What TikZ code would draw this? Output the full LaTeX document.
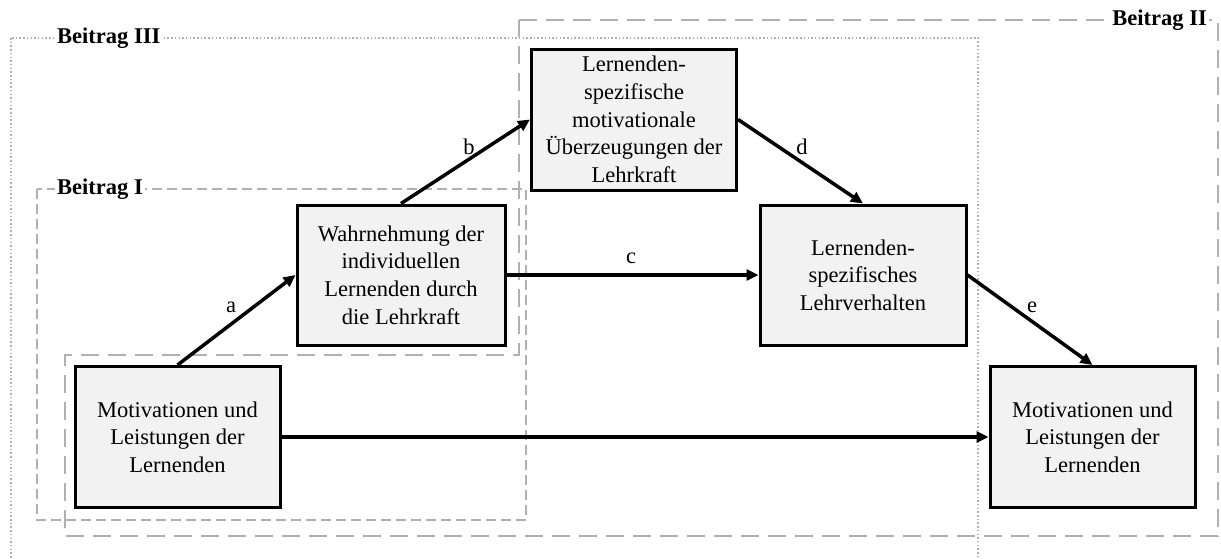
\documentclass[tikz,border=0pt]{standalone}
\usepackage{fontspec}
\setmainfont{Liberation Serif}
\usetikzlibrary{arrows.meta}
\definecolor{grp}{RGB}{176,176,176}
\definecolor{boxfill}{RGB}{242,242,242}
\begin{document}
\begin{tikzpicture}[x=1pt,y=-1pt,
  box/.style={draw=black, line width=3pt, fill=boxfill, align=center,
    font=\fontsize{22.5}{27.7}\selectfont, inner sep=0pt},
  arr/.style={draw=black, line width=3.5pt, -{Triangle[length=12pt,width=11pt]}},
  lbl/.style={font=\fontsize{22.5}{27.7}\selectfont, inner sep=0pt},
  grptitle/.style={font=\bfseries\fontsize{22.5}{27.7}\selectfont, fill=white, inner sep=2pt},
  dotgrp/.style={draw=grp, line width=1.5pt, dash pattern=on 1.5pt off 2.2pt},
  longdash/.style={draw=grp, line width=2.2pt, dash pattern=on 18pt off 9pt},
  shortdash/.style={draw=grp, line width=2pt, dash pattern=on 10pt off 5pt}
]
\useasboundingbox (0,0) rectangle (1221,558);
\clip (0,0) rectangle (1221,558);

% group frames
\draw[dotgrp] (11,38) rectangle (978,580);
\draw[longdash] (519,20) -- (1218,20) -- (1218,536) -- (65,536) -- (65,355) -- (519,355) -- cycle;
\draw[shortdash] (37,189) rectangle (526,520);

\node[grptitle, anchor=west] (t3) at (55,38) {Beitrag III};
\node[grptitle, anchor=west] (t1) at (55,189) {Beitrag I};
\node[grptitle, anchor=east] (t2) at (1209,20) {Beitrag II};

% boxes
\node[box, minimum width=205pt, minimum height=141pt] (M1) at (177.5,437)
  {Motivationen und\\Leistungen der\\Lernenden};
\node[box, minimum width=208pt, minimum height=140pt] (W) at (401,275)
  {Wahrnehmung der\\individuellen\\Lernenden durch\\die Lehrkraft};
\node[box, minimum width=205pt, minimum height=141pt] (U) at (634,119.5)
  {Lernenden-\\spezifische\\motivationale\\Überzeugungen der\\Lehrkraft};
\node[box, minimum width=206pt, minimum height=140pt] (L) at (863,275)
  {Lernenden-\\spezifisches\\Lehrverhalten};
\node[box, minimum width=205pt, minimum height=141pt] (M2) at (1092.5,437)
  {Motivationen und\\Leistungen der\\Lernenden};

% connectors
\draw[arr] (M1.north) -- (W.west);
\draw[arr] (W.north) -- (U.west);
\draw[arr] (W.east) -- (L.west);
\draw[arr] (U.east) -- (L.north);
\draw[arr] (L.east) -- (M2.north);
\draw[arr] (M1.east) -- (M2.west);

% connector labels
\node[lbl] (la) at (231,307) {a};
\node[lbl] (lb) at (469,147) {b};
\node[lbl] (lc) at (631,258) {c};
\node[lbl] (ld) at (802,147) {d};
\node[lbl] (le) at (1032,307) {e};
\end{tikzpicture}
\end{document}
